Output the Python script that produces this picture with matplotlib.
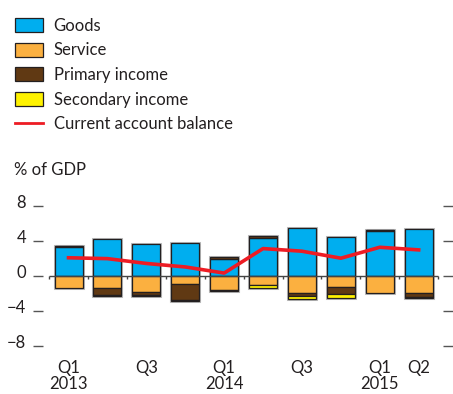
import matplotlib
matplotlib.use("Agg")
import matplotlib.pyplot as plt
import matplotlib.transforms as mtransforms
import numpy as np
from matplotlib.lines import Line2D

plt.rcParams['font.family'] = ['Lato', 'DejaVu Sans']

quarters = ["Q1\n2013", "", "Q3", "", "Q1\n2014", "", "Q3", "", "Q1\n2015", "Q2"]
goods = [3.3, 4.2, 3.65, 3.75, 1.95, 4.35, 5.45, 4.4, 5.15, 5.35]
service = [-1.35, -1.35, -1.85, -0.9, -1.6, -1.05, -1.95, -1.25, -2.0, -2.0]
primary = [0.15, -0.85, -0.4, -1.85, 0.15, 0.15, -0.4, -0.85, 0.1, -0.4]
secondary = [0.0, -0.1, -0.05, -0.1, -0.15, -0.35, -0.35, -0.4, 0.0, -0.1]
current_account = [2.05, 1.95, 1.4, 1.0, 0.3, 3.1, 2.8, 2.0, 3.25, 2.95]
yticks = [8, 4, 0, -4, -8]
yticklabels = ["8", "4", "0", "\u22124", "\u22128"]

series = [("Goods", goods, "#00AEEF"),
          ("Service", service, "#FBB040"),
          ("Primary income", primary, "#603913"),
          ("Secondary income", secondary, "#FFF200")]

W, H = 453, 394
fig = plt.figure(figsize=(W / 100, H / 100), dpi=100)
ax = fig.add_axes([43 / W, 30.8 / H, 400 / W, 175 / H])

text_color = "#231F20"
x = np.arange(len(goods))
width = 0.72
pos_base = np.zeros(len(x))
neg_base = np.zeros(len(x))
handles = []
for name, vals, col in series:
    v = np.array(vals, dtype=float)
    bottoms = np.where(v >= 0, pos_base, neg_base)
    # soft shadow
    ax.bar(x, v, width, bottom=bottoms, color="none", edgecolor="#BBBBBB",
           linewidth=2.2, zorder=1)
    b = ax.bar(x, v, width, bottom=bottoms, color=col, edgecolor=text_color,
               linewidth=0.9, zorder=2, label=name)
    handles.append(b)
    pos_base = pos_base + np.where(v >= 0, v, 0)
    neg_base = neg_base + np.where(v < 0, v, 0)

ax.hlines(0, -0.5, len(x) - 0.5, color="#444444", linewidth=1.0, zorder=3)
bounds = np.arange(len(x) + 1) - 0.5
ax.vlines(bounds, -0.35, 0, color="#444444", linewidth=1.0, zorder=3)

ax.plot(x, current_account, color="#ED1C24", linewidth=2.6, zorder=5)

ax.set_xlim(-0.656, len(x) - 1 + 0.625)
ax.set_ylim(-10, 10)
for s in ax.spines.values():
    s.set_visible(False)

ax.set_yticks(yticks)
ax.set_yticklabels(yticklabels)
ax.tick_params(axis='y', which='both', left=True, right=True, labelleft=True,
               labelright=False, direction='out', length=7, width=1.0,
               color="#555555", labelsize=12, labelcolor=text_color, pad=5)
offset = mtransforms.ScaledTranslation(0, 4 / 100, fig.dpi_scale_trans)
for lbl in ax.get_yticklabels():
    lbl.set_transform(lbl.get_transform() + offset)

ax.set_xticks(x)
ax.set_xticklabels(quarters, linespacing=0.95)
ax.tick_params(axis='x', length=0, labelsize=12, labelcolor=text_color, pad=-2)

fig.text(14 / W, 1 - 170 / H, "% of GDP", fontsize=12, color=text_color,
         va='center', ha='left')

leg_line = Line2D([], [], color="#ED1C24", linewidth=2.0)
handles.append(leg_line)
labels = [s[0] for s in series] + ["Current account balance"]
leg = fig.legend(handles=handles, labels=labels,
                 loc='upper left', bbox_to_anchor=(8 / W, 1 - 11 / H),
                 frameon=False, fontsize=12, handlelength=1.68,
                 handleheight=0.93, handletextpad=0.66, labelspacing=0.52,
                 borderaxespad=0)
for t in leg.get_texts():
    t.set_color(text_color)

fig.savefig("out.png", dpi=100)
